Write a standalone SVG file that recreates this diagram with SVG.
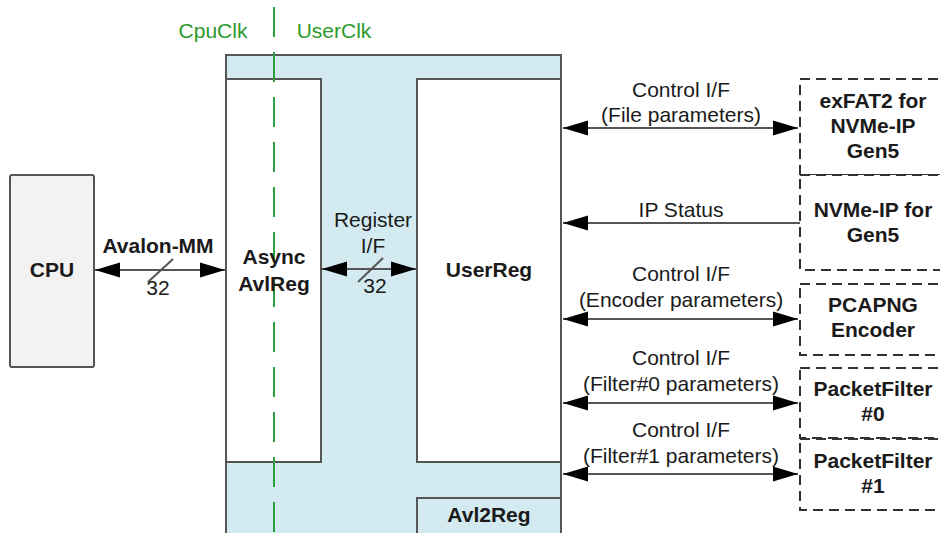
<svg xmlns="http://www.w3.org/2000/svg" width="940" height="533" viewBox="0 0 940 533">
  <style>
    text { font-family: "Liberation Sans", Arial, sans-serif; font-size: 21px; fill: #1a1a1a; text-anchor: middle; }
    .b { font-weight: bold; }
    .clk { fill: #2a9a2a; }
    .blk { stroke: #555; stroke-width: 2; }
    .wire { stroke: #555; stroke-width: 2; fill: none; }
    .ext { fill: #fff; stroke: #333; stroke-width: 2; stroke-dasharray: 10 6; }
  </style>
  <defs>
    <marker id="ah" markerUnits="userSpaceOnUse" markerWidth="25" markerHeight="16" refX="25" refY="8" orient="auto-start-reverse">
      <path d="M0,0.5 L25,8 L0,15.5 z" fill="#000"/>
    </marker>
  </defs>

  <!-- User logic wrapper -->
  <g id="userlogic">
    <rect x="226" y="55" width="335" height="490" fill="#d3eaf0" class="blk"/>
  </g>
  <g id="asyncavlreg">
    <rect x="226" y="79" width="95" height="383" fill="#fff" class="blk"/>
  </g>
  <g id="userreg">
    <rect x="417" y="79" width="144" height="383" fill="#fff" class="blk"/>
    <text x="489" y="277" class="b">UserReg</text>
  </g>
  <g id="avl2reg">
    <rect x="417" y="498" width="144" height="50" fill="#d3eaf0" class="blk"/>
    <text x="489" y="522" class="b">Avl2Reg</text>
  </g>

  <!-- Clock domain boundary -->
  <g id="clockdomain">
    <line x1="274" y1="7" x2="274" y2="533" stroke="#2e9e3e" stroke-width="2" stroke-dasharray="30 15"/>
    <text x="213" y="38" class="clk">CpuClk</text>
    <text x="334" y="38" class="clk">UserClk</text>
  </g>

  <g id="asynclabel">
    <text x="274" y="264" class="b">Async</text>
    <text x="274" y="291" class="b">AvlReg</text>
  </g>

  <g id="cpu">
    <rect x="10" y="175" width="84" height="192" rx="2" fill="#f2f2f2" class="blk"/>
    <text x="52" y="277" class="b">CPU</text>
  </g>

  <!-- External IP blocks -->
  <g id="exfat">
    <rect x="800" y="79" width="160" height="96" class="ext"/>
    <text x="873" y="108" class="b">exFAT2 for</text>
    <text x="873" y="133" class="b">NVMe-IP</text>
    <text x="873" y="158" class="b">Gen5</text>
  </g>
  <g id="nvmeip">
    <rect x="800" y="175" width="160" height="95" class="ext"/>
    <text x="873" y="217" class="b">NVMe-IP for</text>
    <text x="873" y="242" class="b">Gen5</text>
  </g>
  <g id="pcapng">
    <rect x="800" y="284" width="160" height="71" class="ext"/>
    <text x="873" y="312" class="b">PCAPNG</text>
    <text x="873" y="337" class="b">Encoder</text>
  </g>
  <g id="filter0">
    <rect x="800" y="368" width="160" height="70" class="ext"/>
    <text x="873" y="396" class="b">PacketFilter</text>
    <text x="873" y="421" class="b">#0</text>
  </g>
  <g id="filter1">
    <rect x="800" y="439" width="160" height="71" class="ext"/>
    <text x="873" y="468" class="b">PacketFilter</text>
    <text x="873" y="493" class="b">#1</text>
  </g>

  <!-- Connectors -->
  <g id="connectors">
    <line x1="95" y1="270" x2="225" y2="270" class="wire" marker-start="url(#ah)" marker-end="url(#ah)"/>
    <line x1="148" y1="282" x2="173" y2="259" class="wire" stroke-width="1.2"/>
    <text x="158" y="253" class="b">Avalon-MM</text>
    <text x="158" y="295">32</text>

    <line x1="322" y1="269" x2="416" y2="269" class="wire" marker-start="url(#ah)" marker-end="url(#ah)"/>
    <line x1="358" y1="282" x2="383" y2="258" class="wire" stroke-width="1.2"/>
    <text x="373" y="227">Register</text>
    <text x="373" y="253">I/F</text>
    <text x="375" y="293">32</text>

    <line x1="563" y1="128" x2="798" y2="128" class="wire" marker-start="url(#ah)" marker-end="url(#ah)"/>
    <text x="681" y="97">Control I/F</text>
    <text x="681" y="122">(File parameters)</text>

    <line x1="800" y1="223" x2="563" y2="223" class="wire" marker-end="url(#ah)"/>
    <text x="681" y="217">IP Status</text>

    <line x1="563" y1="319" x2="798" y2="319" class="wire" marker-start="url(#ah)" marker-end="url(#ah)"/>
    <text x="681" y="281">Control I/F</text>
    <text x="681" y="307">(Encoder parameters)</text>

    <line x1="563" y1="403" x2="798" y2="403" class="wire" marker-start="url(#ah)" marker-end="url(#ah)"/>
    <text x="681" y="365">Control I/F</text>
    <text x="681" y="391">(Filter#0 parameters)</text>

    <line x1="563" y1="474" x2="798" y2="474" class="wire" marker-start="url(#ah)" marker-end="url(#ah)"/>
    <text x="681" y="437">Control I/F</text>
    <text x="681" y="463">(Filter#1 parameters)</text>
  </g>
</svg>
